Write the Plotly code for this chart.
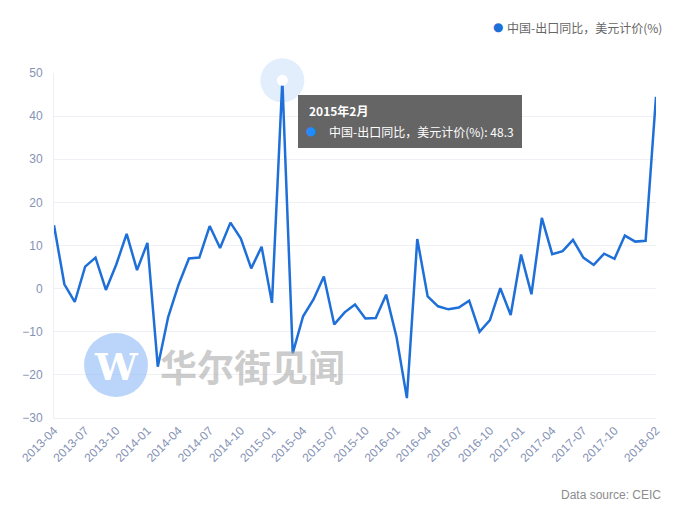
import plotly.graph_objects as go

months = [
    "2013-04", "2013-05", "2013-06", "2013-07", "2013-08", "2013-09", "2013-10", "2013-11", "2013-12",
    "2014-01", "2014-02", "2014-03", "2014-04", "2014-05", "2014-06", "2014-07", "2014-08", "2014-09",
    "2014-10", "2014-11", "2014-12",
    "2015-01", "2015-02", "2015-03", "2015-04", "2015-05", "2015-06", "2015-07", "2015-08", "2015-09",
    "2015-10", "2015-11", "2015-12",
    "2016-01", "2016-02", "2016-03", "2016-04", "2016-05", "2016-06", "2016-07", "2016-08", "2016-09",
    "2016-10", "2016-11", "2016-12",
    "2017-01", "2017-02", "2017-03", "2017-04", "2017-05", "2017-06", "2017-07", "2017-08", "2017-09",
    "2017-10", "2017-11", "2017-12",
    "2018-01", "2018-02",
]
export_yoy = [
    14.7, 1.0, -3.1, 5.1, 7.2, -0.3, 5.6, 12.7, 4.3,
    10.6, -18.1, -6.6, 0.9, 7.0, 7.2, 14.5, 9.4, 15.3, 11.6, 4.7, 9.7,
    -3.3, 48.3, -15.0, -6.4, -2.5, 2.8, -8.3, -5.5, -3.7, -6.9, -6.8, -1.4,
    -11.2, -25.4, 11.5, -1.8, -4.1, -4.8, -4.4, -2.8, -10.0, -7.3, 0.1, -6.1,
    7.9, -1.3, 16.4, 8.0, 8.7, 11.3, 7.2, 5.5, 8.1, 6.9, 12.3, 10.9,
    11.1, 44.5,
]
tick_months = [
    "2013-04", "2013-07", "2013-10", "2014-01", "2014-04", "2014-07", "2014-10",
    "2015-01", "2015-04", "2015-07", "2015-10", "2016-01", "2016-04", "2016-07",
    "2016-10", "2017-01", "2017-04", "2017-07", "2017-10", "2018-02",
]
y_ticks = [-30, -20, -10, 0, 10, 20, 30, 40, 50]

series_name = "中国-出口同比，美元计价(%)"
hover_index = 22
hover_title = "2015年2月"
source_text = "Data source: CEIC"
watermark_text = "华尔街见闻"

LINE = "#1f6fd8"
TICK = "#8592b5"
GRID = "#eef0f5"

W, H = 682, 512
L, R, T, B = 54, 26, 73, 94
pw, ph = W - L - R, H - T - B


def px(x):
    return (x - L) / pw


def py(y):
    return (H - B - y) / ph


fig = go.Figure()
fig.add_trace(go.Scatter(
    x=months, y=export_yoy, mode="lines",
    line=dict(color=LINE, width=2.5), showlegend=False, hoverinfo="skip",
))
# hover highlight on the selected point
fig.add_trace(go.Scatter(
    x=[months[hover_index]], y=[export_yoy[hover_index]], mode="markers",
    marker=dict(size=44, color="rgba(40,120,230,0.13)", line=dict(width=0)),
    showlegend=False, hoverinfo="skip", cliponaxis=False,
))
fig.add_trace(go.Scatter(
    x=[months[hover_index]], y=[export_yoy[hover_index]], mode="markers",
    marker=dict(size=11, color="white", line=dict(width=0)),
    showlegend=False, hoverinfo="skip", cliponaxis=False,
))

shapes = []
annotations = []

# watermark circle
shapes.append(dict(
    type="circle", xref="paper", yref="paper", layer="above",
    x0=px(84), x1=px(148), y0=py(397), y1=py(333),
    fillcolor="rgba(140,185,245,0.6)", line=dict(width=0),
))
annotations.append(dict(
    xref="paper", yref="paper", x=px(116), y=py(366), text="<b>W</b>",
    showarrow=False, xanchor="center", yanchor="middle",
    font=dict(family="DejaVu Serif", size=38, color="white"),
))
annotations.append(dict(
    xref="paper", yref="paper", x=px(158), y=py(366), text="<b>" + watermark_text + "</b>",
    showarrow=False, xanchor="left", yanchor="middle",
    font=dict(family="Noto Sans CJK SC", size=37, color="rgba(170,170,170,0.6)"),
))

# tooltip box
shapes.append(dict(
    type="rect", xref="paper", yref="paper", layer="above",
    x0=px(298), x1=px(522), y0=py(148), y1=py(95),
    fillcolor="rgba(80,80,80,0.88)", line=dict(width=0),
))
annotations.append(dict(
    xref="paper", yref="paper", x=px(307), y=py(110), text="<b>" + hover_title + "</b>",
    showarrow=False, xanchor="left", yanchor="middle",
    font=dict(family="Noto Sans CJK SC, Liberation Sans", size=12, color="white"),
))
annotations.append(dict(
    xref="paper", yref="paper", x=px(311), y=py(131), text="●",
    showarrow=False, xanchor="center", yanchor="middle",
    font=dict(family="DejaVu Sans", size=12, color="#1e8cff"),
))
annotations.append(dict(
    xref="paper", yref="paper", x=px(327), y=py(131),
    text=f"{series_name}: {export_yoy[hover_index]}",
    showarrow=False, xanchor="left", yanchor="middle",
    font=dict(family="Noto Sans CJK SC, Liberation Sans", size=12, color="white"),
))

# legend (top right)
annotations.append(dict(
    xref="paper", yref="paper", x=px(498), y=py(27), text="●",
    showarrow=False, xanchor="center", yanchor="middle",
    font=dict(family="DejaVu Sans", size=12, color=LINE),
))
annotations.append(dict(
    xref="paper", yref="paper", x=px(664), y=py(27), text=series_name,
    showarrow=False, xanchor="right", yanchor="middle",
    font=dict(family="Noto Sans CJK SC", size=12, color="#666666"),
))
# source
annotations.append(dict(
    xref="paper", yref="paper", x=px(663), y=py(495), text=source_text,
    showarrow=False, xanchor="right", yanchor="middle",
    font=dict(family="Liberation Sans, Arial", size=12, color="#8c8c8c"),
))

fig.update_layout(
    width=W, height=H,
    margin=dict(l=L, r=R, t=T, b=B),
    paper_bgcolor="white", plot_bgcolor="white",
    shapes=shapes, annotations=annotations,
    showlegend=False,
    xaxis=dict(
        type="category", range=[0, len(months) - 1],
        tickmode="array", tickvals=tick_months, ticktext=tick_months,
        tickangle=-45, tickfont=dict(family="Liberation Sans, Arial", size=12, color=TICK),
        showgrid=False, showline=True, linecolor=GRID, zeroline=False,
        ticks="", fixedrange=True,
    ),
    yaxis=dict(
        range=[-30, 50], tickmode="array", tickvals=y_ticks,
        tickfont=dict(family="Liberation Sans, Arial", size=12, color=TICK),
        showgrid=True, gridcolor=GRID, gridwidth=1,
        showline=True, linecolor=GRID, zeroline=False,
        ticks="", ticklabelstandoff=8,
    ),
)

fig.write_html("out.html")
